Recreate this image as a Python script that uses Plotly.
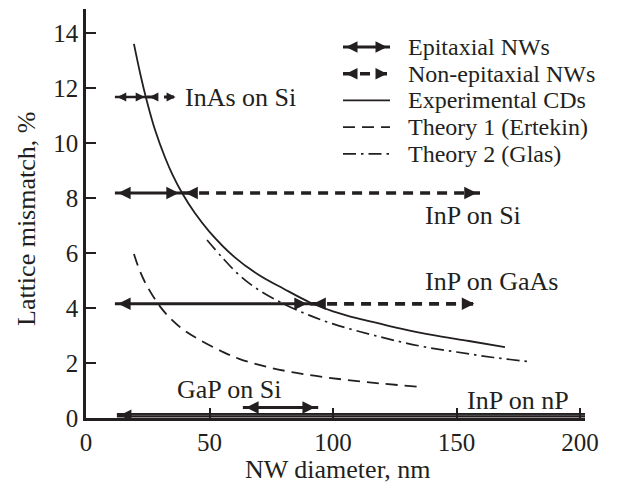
import plotly.graph_objects as go

# ---------------- data ----------------
exp_d = [19.4, 22, 24.7, 28, 32, 35, 38.9, 44, 50, 60, 70, 80, 90.7, 100, 110, 119, 127, 140, 155, 169.6]
exp_v = [13.6, 12.5, 11.5, 10.46, 9.47, 8.85, 8.18, 7.46, 6.77, 5.86, 5.2, 4.7, 4.2, 3.88, 3.62, 3.43, 3.26, 3.02, 2.8, 2.58]

t1_d = [19.4, 22, 25, 30, 35, 40, 46, 55, 62, 75, 90, 105, 120, 134]
t1_v = [5.96, 5.3, 4.75, 4.05, 3.55, 3.17, 2.84, 2.42, 2.15, 1.82, 1.57, 1.39, 1.25, 1.14]

t2_d = [49, 55, 62, 70, 80, 90, 100, 119, 135, 150, 165, 180.5]
t2_v = [6.47, 5.85, 5.2, 4.65, 4.15, 3.75, 3.42, 2.95, 2.62, 2.4, 2.2, 2.04]

systems = ["InAs on Si", "InP on Si", "InP on GaAs", "GaP on Si", "InP on nP"]
mismatch = [11.67, 8.18, 4.15, 0.38, 0.1]
epi_from = [11.7, 11.7, 11.7, 63.5, 12.5]
epi_to = [24.7, 38.9, 90.7, 94.0, 202]
nonepi_to = [37.2, 159.5, 158.5, None, None]
label_d = [39.3, 136.4, 136.4, 36, 153.4]
label_v = [11.67, 7.38, 4.95, 1.02, 0.65]

x_ticks = [0, 50, 100, 150, 200]
y_ticks = [0, 2, 4, 6, 8, 10, 12, 14]

legend_labels = ["Epitaxial NWs", "Non-epitaxial NWs", "Experimental CDs",
                 "Theory 1 (Ertekin)", "Theory 2 (Glas)"]

# ---------------- styling ----------------
FONT = "Liberation Serif"
INK = "#231f20"
ARROW_DASH = "10px,7px"
T1_DASH = "12px,7px"
T2_DASH = "13px,5px,2.5px,5px"

L, R, T, B = 86, 35, 9, 67
W, H = 620, 485
PW, PH = W - L - R, H - T - B


def px(x):
    return (x - L) / PW


def py(y):
    return (H - B - y) / PH


fig = go.Figure()

# curves
fig.add_trace(go.Scatter(x=exp_d, y=exp_v, mode="lines", line=dict(color=INK, width=1.8, shape="spline"),
                         hoverinfo="skip", showlegend=False))
fig.add_trace(go.Scatter(x=t1_d, y=t1_v, mode="lines", line=dict(color=INK, width=1.8, dash=T1_DASH, shape="spline"),
                         hoverinfo="skip", showlegend=False))
fig.add_trace(go.Scatter(x=t2_d, y=t2_v, mode="lines", line=dict(color=INK, width=1.7, dash=T2_DASH, shape="spline"),
                         hoverinfo="skip", showlegend=False))


def head(x, y, direction, scale=2.4, ref=("x", "y")):
    """Filled arrowhead whose tip sits exactly on (x, y); direction +1 = right, -1 = left."""
    fig.add_annotation(x=x, y=y, xref=ref[0], yref=ref[1], ax=-direction * 4.2 * scale, ay=0,
                       text="", showarrow=True, arrowhead=2, arrowsize=1, arrowwidth=scale,
                       arrowcolor=INK, standoff=1.3 * scale)


def shaft(xs, ys, width, dash=None, xa="x", ya="y"):
    fig.add_trace(go.Scatter(x=xs, y=ys, mode="lines", xaxis=xa, yaxis=ya,
                             line=dict(color=INK, width=width, dash=dash),
                             hoverinfo="skip", showlegend=False))


for i, name in enumerate(systems):
    y = mismatch[i]
    sc = 1.8 if i == 0 else 2.5
    if name == "InP on nP":
        shaft([epi_from[i], epi_to[i]], [y, y], 4.6)
        fig.add_trace(go.Scatter(x=[epi_from[i] + 4, epi_to[i]], y=[y, y], mode="lines",
                                 line=dict(color="#6e6e6e", width=0.7), hoverinfo="skip", showlegend=False))
        head(epi_from[i], y, -1, scale=2.3)
    else:
        shaft([epi_from[i], epi_to[i]], [y, y], 2.6 if i == 0 else 3.0)
        head(epi_from[i], y, -1, sc)
        head(epi_to[i], y, +1, sc)
        if nonepi_to[i] is not None:
            shaft([epi_to[i], nonepi_to[i]], [y, y], 3.0 if i == 0 else 3.6, dash=ARROW_DASH)
            head(epi_to[i], y, -1, sc)
            head(nonepi_to[i], y, +1, sc)
    fig.add_annotation(x=label_d[i], y=label_v[i], text=name, showarrow=False, xanchor="left", yanchor="middle",
                       font=dict(family=FONT, size=26, color=INK))

# ---------------- custom legend (paper coords via overlay axes) ----------------
rows = [47, 73.7, 100.4, 127.1, 153.8]
kx0, kx1, tx = 343, 390, 406
shaft([px(kx0), px(kx1)], [py(rows[0])] * 2, 3.0, xa="x2", ya="y2")
head(px(kx0), py(rows[0]), -1, 2.3, ref=("paper", "paper"))
head(px(kx1), py(rows[0]), +1, 2.3, ref=("paper", "paper"))
shaft([px(kx0), px(kx1)], [py(rows[1])] * 2, 3.6, dash=ARROW_DASH, xa="x2", ya="y2")
head(px(kx0), py(rows[1]), -1, 2.3, ref=("paper", "paper"))
head(px(kx1), py(rows[1]), +1, 2.3, ref=("paper", "paper"))
for r, dsh, wd in [(rows[2], None, 1.8), (rows[3], T1_DASH, 1.8), (rows[4], T2_DASH, 1.7)]:
    shaft([px(kx0), px(kx1)], [py(r)] * 2, wd, dash=dsh, xa="x2", ya="y2")
for r, lab in zip(rows, legend_labels):
    fig.add_annotation(x=px(tx), y=py(r), xref="paper", yref="paper", text=lab, showarrow=False,
                       xanchor="left", yanchor="middle", font=dict(family=FONT, size=24, color=INK))

# axis titles
fig.add_annotation(x=px(337), y=py(469), xref="paper", yref="paper", text="NW diameter, nm", showarrow=False,
                   xanchor="center", yanchor="middle", font=dict(family=FONT, size=26, color=INK))
fig.add_annotation(x=px(26), y=py(219), xref="paper", yref="paper", text="Lattice mismatch, %", showarrow=False,
                   textangle=-90, xanchor="center", yanchor="middle", font=dict(family=FONT, size=26, color=INK))

axis_common = dict(showgrid=False, zeroline=False, showline=True, linecolor=INK, linewidth=2.5,
                   ticks="inside", ticklen=10, tickwidth=1.6, tickcolor=INK,
                   tickfont=dict(family=FONT, size=25, color=INK))

fig.update_layout(
    width=W, height=H, margin=dict(l=L, r=R, t=T, b=B, pad=0),
    paper_bgcolor="white", plot_bgcolor="white", showlegend=False,
    xaxis=dict(range=[0, 202], tickvals=x_ticks, **axis_common),
    yaxis=dict(range=[0, 14.87], tickvals=y_ticks, **axis_common),
    xaxis2=dict(overlaying="x", anchor="y2", range=[0, 1], visible=False),
    yaxis2=dict(overlaying="y", anchor="x2", range=[0, 1], visible=False),
)

fig.write_html("out.html")
